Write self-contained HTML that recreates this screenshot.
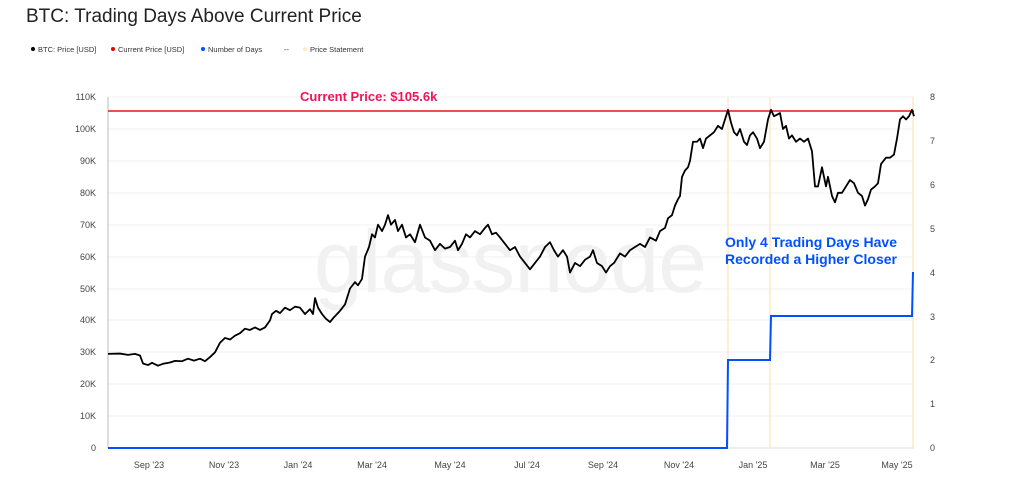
<!DOCTYPE html>
<html><head><style>
body{margin:0;background:#fff;font-family:"Liberation Sans",sans-serif;}
</style></head><body>
<svg width="1024" height="481" xmlns="http://www.w3.org/2000/svg" font-family="Liberation Sans, sans-serif">
<rect width="1024" height="481" fill="#fff"/>
<text x="26" y="22" font-size="19" fill="#222">BTC: Trading Days Above Current Price</text>
<g font-size="7.5" fill="#333">
<circle cx="33" cy="49" r="2" fill="#000"/><text x="38" y="52">BTC: Price [USD]</text>
<circle cx="113" cy="49" r="2" fill="#e00"/><text x="118" y="52">Current Price [USD]</text>
<circle cx="203" cy="49" r="2" fill="#0050ff"/><text x="208" y="52">Number of Days</text>
<text x="284" y="52">--</text>
<circle cx="305" cy="49" r="2" fill="#fde9c4"/><text x="310" y="52">Price Statement</text>
</g>
<g stroke="#f0f0f0" stroke-width="1">
<line x1="108" x2="914" y1="97" y2="97"/><line x1="108" x2="914" y1="129" y2="129"/><line x1="108" x2="914" y1="161" y2="161"/><line x1="108" x2="914" y1="193" y2="193"/><line x1="108" x2="914" y1="225" y2="225"/><line x1="108" x2="914" y1="257" y2="257"/><line x1="108" x2="914" y1="289" y2="289"/><line x1="108" x2="914" y1="320" y2="320"/><line x1="108" x2="914" y1="352" y2="352"/><line x1="108" x2="914" y1="384" y2="384"/><line x1="108" x2="914" y1="416" y2="416"/>
</g>
<text x="510" y="292" font-size="88" fill="#f1f1f1" text-anchor="middle" letter-spacing="-1">glassnode</text>
<line x1="108" y1="97" x2="108" y2="448" stroke="#bbb"/>
<line x1="108" y1="448" x2="914" y2="448" stroke="#ddd"/>
<g stroke="#fde3b8" stroke-width="1.2">
<line x1="728" y1="97" x2="728" y2="448"/><line x1="770" y1="97" x2="770" y2="448"/><line x1="913" y1="97" x2="913" y2="448"/>
</g>
<line x1="108" y1="111" x2="914" y2="111" stroke="#e8141c" stroke-width="1.6"/>
<text x="300" y="101" font-size="13" font-weight="bold" fill="#f0145a">Current Price: $105.6k</text>
<g transform="translate(0,448) scale(1,-3.19)">
<polyline vector-effect="non-scaling-stroke" fill="none" stroke="#000" stroke-width="1.8" stroke-linejoin="round" points="108,29.5 120,29.6 128,29.2 135,29.5 140,29 143,26.5 148,26 152,26.7 158,25.8 163,26.4 170,26.8 175,27.3 182,27.2 188,28 194,27.4 200,28 205,27.2 210,28.5 215,30 220,33 225,34.5 230,34 235,35.2 240,36 245,37.4 250,37 255,37.8 260,37 265,37.8 270,40 272,42 276,43 280,42.3 285,44 290,43.2 295,44.3 300,44 305,42 310,43.5 313,42 315,47 318,44 322,42 326,40.5 330,39.5 334,41 340,43 345,45 350,50 355,52 358,51 362,53 365,60 369,63 372,67 375,66 378,70 382,68 385,70 388,73 391,70 395,71.5 398,68 402,70 406,66 410,67 415,64.5 420,70 425,66 430,65 435,62 440,64 445,62.5 450,63 455,65 458,62 462,64 466,67 470,66 475,68 480,67 485,69 488,70 492,67 496,67.5 500,66 505,64 510,62 515,63 520,60 525,58 530,56 535,58 540,60 545,63 550,64.5 554,62 558,60 563,62 567,60 570,55 575,58 580,57 585,59 590,60 593,62 597,58 602,57 606,55 610,57 614,58 620,61 625,60 630,62 635,63 640,64 645,63 650,66 656,65 660,68 665,69 668,72 672,73 675,76 678,78 680,79 682,85 685,87 688,88 690,90 693,96 697,96 700,97 703,94 706,97 710,98 714,99 718,101 722,100 725,103 728,106 731,102 734,99 737,98 740,100 744,96 747,95 750,98 753,99 757,97 760,94 764,96 768,103 771,106 774,104 777,104.5 780,105 783,100 786,101 789,97 792,98 796,96 800,97 804,96 808,97 812,93 815,82 818,82 822,88 826,82 828,85 832,79 835,77 838,80 842,80 846,82 850,84 854,83 858,80 862,79 865,76 868,78 871,81 875,82 878,83 881,89 886,91 890,91 894,92 897,97 900,103 903,104 906,103 909,104 912,106 914,104"/>
</g>
<polyline fill="none" stroke="#0050ff" stroke-width="2" points="108,448 727,448 728,360 770,360 771,316 912,316 913,272"/>
<text x="811" y="247" font-size="14" font-weight="bold" fill="#0050ff" text-anchor="middle">Only 4 Trading Days Have</text>
<text x="811" y="264" font-size="14" font-weight="bold" fill="#0050ff" text-anchor="middle">Recorded a Higher Closer</text>
<g font-size="9" fill="#444" text-anchor="end">
<text x="96" y="100">110K</text><text x="96" y="132">100K</text><text x="96" y="164">90K</text><text x="96" y="196">80K</text><text x="96" y="228">70K</text><text x="96" y="260">60K</text><text x="96" y="292">50K</text><text x="96" y="323">40K</text><text x="96" y="355">30K</text><text x="96" y="387">20K</text><text x="96" y="419">10K</text><text x="96" y="451">0</text>
</g>
<g font-size="9" fill="#444">
<text x="930" y="100">8</text><text x="930" y="144">7</text><text x="930" y="188">6</text><text x="930" y="232">5</text><text x="930" y="276">4</text><text x="930" y="320">3</text><text x="930" y="363">2</text><text x="930" y="407">1</text><text x="930" y="451">0</text>
</g>
<g font-size="9" fill="#444" text-anchor="middle">
<text x="149" y="468">Sep '23</text><text x="224" y="468">Nov '23</text><text x="298" y="468">Jan '24</text><text x="372" y="468">Mar '24</text><text x="450" y="468">May '24</text><text x="527" y="468">Jul '24</text><text x="603" y="468">Sep '24</text><text x="679" y="468">Nov '24</text><text x="753" y="468">Jan '25</text><text x="825" y="468">Mar '25</text><text x="897" y="468">May '25</text>
</g>
</svg>
</body></html>
